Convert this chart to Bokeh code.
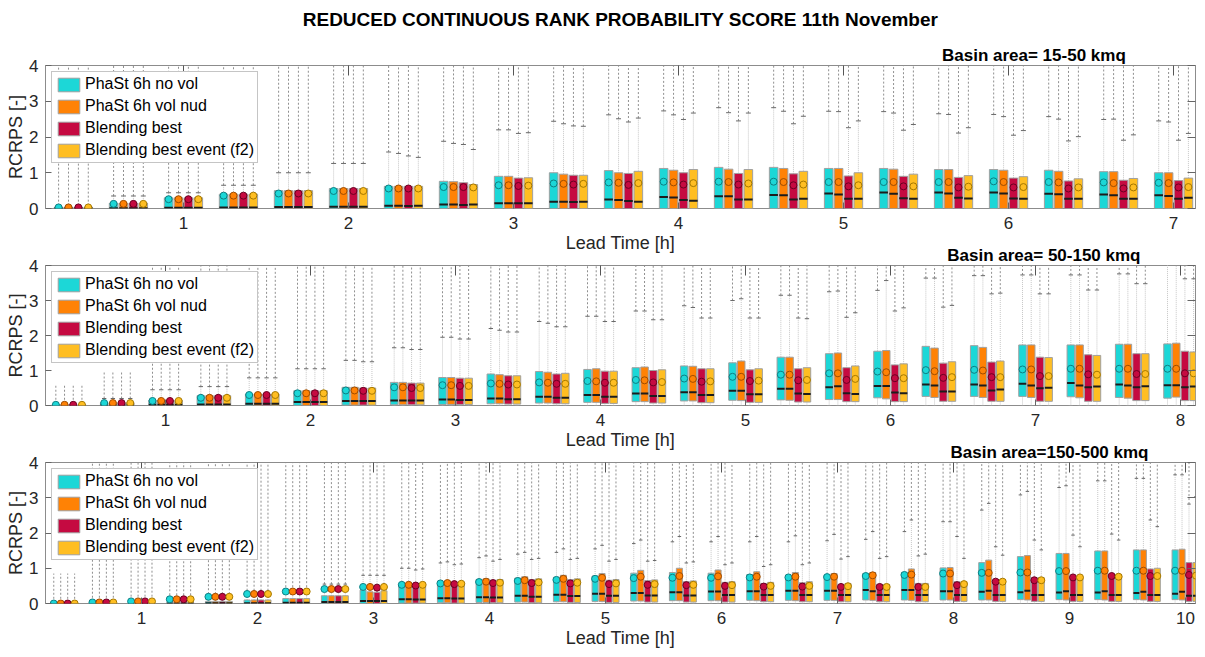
from bokeh.plotting import figure
from bokeh.models import (ColumnDataSource, Range1d, LinearAxis, Legend, LegendItem,
                          Title, FixedTicker, CustomJSTickFormatter)
from bokeh.layouts import column
from bokeh.embed import file_html
from bokeh.resources import INLINE

# ---------------------------------------------------------------- labels
TITLE = "REDUCED CONTINUOUS RANK PROBABILITY SCORE 11th November"
X_LABEL = "Lead Time [h]"
Y_LABEL = "RCRPS [-]"
SERIES = ["PhaSt 6h no vol", "PhaSt 6h vol nud", "Blending best", "Blending best event (f2)"]
FILL = ["#1CD7D7", "#FF8205", "#C50A41", "#FFBE22"]
DARK = ["#0E7E82", "#9E4C00", "#6A0022", "#A57800"]

P1_SUB = "Basin area= 15-50  kmq"
P2_SUB = "Basin area= 50-150 kmq"
P3_SUB = "Basin area=150-500 kmq"

P1_XTICKS = [1, 2, 3, 4, 5, 6, 7]
P2_XTICKS = [1, 2, 3, 4, 5, 6, 7, 8]
P3_XTICKS = [1, 2, 3, 4, 5, 6, 7, 8, 9, 10]
Y_TICKS = [0, 1, 2, 3, 4]

# ---------------------------------------------------------------- panel 1 (15-50 kmq)
P1_LEAD_MIN = [20, 40, 60, 80, 100, 120, 140, 160, 180, 200, 220, 240, 260, 280, 300,
               320, 340, 360, 380, 400, 420]
P1_Q1_A = [0, 0, 0, 0, 0, 0, 0, 0, 0, 0, 0, 0, 0, 0, 0, 0, 0, 0, 0, 0, 0]
P1_Q1_B = [0, 0, 0, 0, 0, 0, 0, 0, 0, 0, 0, 0, 0, 0, 0, 0, 0, 0, 0, 0, 0]
P1_Q1_C = [0, 0, 0, 0, 0, 0, 0, 0, 0, 0, 0, 0, 0, 0, 0, 0, 0, 0, 0, 0, 0]
P1_Q1_D = [0, 0, 0, 0, 0, 0, 0, 0, 0, 0, 0, 0, 0, 0, 0, 0, 0, 0, 0, 0, 0]
P1_Q3_A = [0.04, 0.15, 0.30, 0.40, 0.50, 0.56, 0.62, 0.76, 0.90, 1.00, 1.06, 1.12, 1.15, 1.15,
           1.12, 1.12, 1.09, 1.09, 1.07, 1.03, 1.00]
P1_Q3_B = [0.04, 0.15, 0.30, 0.40, 0.50, 0.56, 0.62, 0.75, 0.90, 0.96, 1.00, 1.07, 1.10, 1.12,
           1.12, 1.10, 1.09, 1.07, 1.04, 1.03, 1.00]
P1_Q3_C = [0.04, 0.15, 0.30, 0.40, 0.50, 0.56, 0.62, 0.72, 0.85, 0.93, 0.98, 1.00, 0.98, 0.97,
           0.91, 0.90, 0.87, 0.85, 0.77, 0.79, 0.78]
P1_Q3_D = [0.04, 0.15, 0.30, 0.40, 0.50, 0.56, 0.62, 0.67, 0.86, 0.93, 1.04, 1.09, 1.09, 1.04,
           1.00, 0.96, 0.92, 0.89, 0.83, 0.84, 0.85]
P1_MED_A = [0.00, 0.01, 0.02, 0.03, 0.04, 0.05, 0.08, 0.11, 0.15, 0.19, 0.25, 0.32, 0.34, 0.38,
            0.42, 0.45, 0.45, 0.45, 0.41, 0.39, 0.37]
P1_MED_B = [0.00, 0.01, 0.02, 0.03, 0.04, 0.05, 0.08, 0.11, 0.15, 0.19, 0.24, 0.31, 0.34, 0.37,
            0.39, 0.41, 0.42, 0.42, 0.40, 0.37, 0.35]
P1_MED_C = [0.00, 0.01, 0.02, 0.03, 0.04, 0.05, 0.07, 0.10, 0.15, 0.18, 0.21, 0.24, 0.25, 0.25,
            0.27, 0.29, 0.30, 0.28, 0.27, 0.27, 0.27]
P1_MED_D = [0.00, 0.01, 0.02, 0.03, 0.04, 0.05, 0.08, 0.11, 0.15, 0.19, 0.19, 0.22, 0.25, 0.27,
            0.27, 0.27, 0.28, 0.27, 0.27, 0.27, 0.30]
P1_MEAN_A = [0.03, 0.13, 0.26, 0.36, 0.42, 0.49, 0.56, 0.60, 0.65, 0.70, 0.73, 0.75, 0.75, 0.75,
             0.74, 0.74, 0.74, 0.76, 0.74, 0.73, 0.72]
P1_MEAN_B = [0.03, 0.13, 0.26, 0.36, 0.42, 0.49, 0.56, 0.60, 0.65, 0.69, 0.72, 0.73, 0.74, 0.74,
             0.74, 0.74, 0.74, 0.74, 0.73, 0.71, 0.71]
P1_MEAN_C = [0.03, 0.13, 0.26, 0.36, 0.42, 0.49, 0.56, 0.60, 0.63, 0.67, 0.66, 0.67, 0.67, 0.65,
             0.62, 0.62, 0.59, 0.59, 0.56, 0.56, 0.59]
P1_MEAN_D = [0.03, 0.13, 0.26, 0.36, 0.42, 0.49, 0.56, 0.59, 0.64, 0.69, 0.71, 0.71, 0.70, 0.67,
             0.65, 0.62, 0.61, 0.60, 0.59, 0.59, 0.60]
P1_CAP_A = [0.08, 0.35, 0.44, 0.65, 1.00, 1.26, 1.58, 1.88, 2.20, 2.44, 2.62, 2.73, 2.82, 2.82,
            2.72, 2.71, 2.65, 2.63, 2.57, 2.49, 2.45]
P1_CAP_B = [0.08, 0.35, 0.44, 0.65, 1.00, 1.26, 1.54, 1.82, 2.20, 2.37, 2.51, 2.62, 2.68, 2.72,
            2.71, 2.67, 2.63, 2.57, 2.50, 2.50, 2.42]
P1_CAP_C = [0.08, 0.35, 0.44, 0.65, 1.00, 1.26, 1.47, 1.79, 2.10, 2.31, 2.42, 2.49, 2.45, 2.37,
            2.26, 2.19, 2.11, 2.05, 1.89, 1.91, 1.91]
P1_CAP_D = [0.08, 0.35, 0.44, 0.65, 1.00, 1.26, 1.43, 1.65, 2.12, 2.30, 2.53, 2.67, 2.67, 2.58,
            2.45, 2.35, 2.26, 2.18, 2.01, 2.06, 2.10]
P1_OUTMAX = [4, 4, 4, 4, 4, 4, 4, 4, 4, 4, 4, 4, 4, 4, 4, 4, 4, 4, 4, 4, 4]

# ---------------------------------------------------------------- panel 2 (50-150 kmq)
P2_LEAD_MIN = [20, 40, 60, 80, 100, 120, 140, 160, 180, 200, 220, 240, 260, 280, 300, 320,
               340, 360, 380, 400, 420, 440, 460, 480]
P2_Q1_A = [0, 0, 0, 0, 0, 0, 0.01, 0.02, 0.03, 0.05, 0.07, 0.09, 0.11, 0.13, 0.15, 0.16,
           0.17, 0.22, 0.26, 0.26, 0.26, 0.25, 0.23, 0.21]
P2_Q1_B = [0, 0, 0, 0, 0, 0, 0.01, 0.02, 0.03, 0.05, 0.07, 0.09, 0.11, 0.13, 0.14, 0.15,
           0.17, 0.19, 0.23, 0.23, 0.23, 0.22, 0.21, 0.24]
P2_Q1_C = [0, 0, 0, 0, 0, 0, 0.01, 0.02, 0.03, 0.04, 0.05, 0.06, 0.07, 0.08, 0.09, 0.10,
           0.11, 0.11, 0.12, 0.12, 0.12, 0.12, 0.14, 0.14]
P2_Q1_D = [0, 0, 0, 0, 0, 0, 0.01, 0.02, 0.03, 0.04, 0.05, 0.06, 0.07, 0.08, 0.09, 0.10,
           0.11, 0.11, 0.12, 0.12, 0.12, 0.12, 0.14, 0.14]
P2_Q3_A = [0.02, 0.08, 0.15, 0.28, 0.33, 0.42, 0.52, 0.66, 0.80, 0.90, 0.97, 1.03, 1.08, 1.13,
           1.22, 1.38, 1.48, 1.55, 1.69, 1.71, 1.73, 1.73, 1.75, 1.76]
P2_Q3_B = [0.02, 0.08, 0.15, 0.28, 0.33, 0.42, 0.52, 0.66, 0.80, 0.88, 0.95, 1.05, 1.10, 1.12,
           1.27, 1.38, 1.50, 1.57, 1.64, 1.66, 1.73, 1.73, 1.75, 1.78]
P2_Q3_C = [0.02, 0.08, 0.15, 0.28, 0.33, 0.42, 0.50, 0.64, 0.78, 0.85, 0.90, 0.98, 1.00, 1.05,
           1.02, 1.05, 1.08, 1.16, 1.21, 1.24, 1.38, 1.45, 1.48, 1.55]
P2_Q3_D = [0.02, 0.08, 0.15, 0.28, 0.33, 0.42, 0.50, 0.64, 0.78, 0.85, 0.92, 0.98, 1.02, 1.05,
           1.05, 1.08, 1.13, 1.19, 1.25, 1.27, 1.37, 1.43, 1.48, 1.53]
P2_MED_A = [0.00, 0.01, 0.02, 0.03, 0.05, 0.10, 0.13, 0.14, 0.17, 0.20, 0.25, 0.30, 0.34, 0.38,
            0.42, 0.48, 0.52, 0.56, 0.60, 0.60, 0.62, 0.64, 0.60, 0.58]
P2_MED_B = [0.00, 0.01, 0.02, 0.03, 0.05, 0.10, 0.13, 0.14, 0.17, 0.20, 0.25, 0.30, 0.34, 0.38,
            0.42, 0.48, 0.55, 0.56, 0.57, 0.57, 0.57, 0.57, 0.57, 0.58]
P2_MED_C = [0.00, 0.01, 0.02, 0.03, 0.05, 0.10, 0.13, 0.14, 0.16, 0.18, 0.22, 0.25, 0.27, 0.30,
            0.32, 0.34, 0.35, 0.37, 0.40, 0.43, 0.49, 0.52, 0.52, 0.52]
P2_MED_D = [0.00, 0.01, 0.02, 0.03, 0.05, 0.10, 0.13, 0.14, 0.16, 0.18, 0.22, 0.25, 0.27, 0.30,
            0.32, 0.33, 0.33, 0.35, 0.40, 0.46, 0.51, 0.54, 0.55, 0.54]
P2_MEAN_A = [0.02, 0.07, 0.13, 0.22, 0.30, 0.35, 0.43, 0.52, 0.58, 0.63, 0.66, 0.70, 0.73, 0.77,
             0.82, 0.88, 0.92, 0.97, 1.01, 1.02, 1.03, 1.05, 1.05, 1.05]
P2_MEAN_B = [0.02, 0.07, 0.13, 0.22, 0.30, 0.35, 0.43, 0.52, 0.58, 0.62, 0.65, 0.69, 0.72, 0.76,
             0.82, 0.88, 0.92, 0.95, 0.98, 1.00, 1.03, 1.05, 1.05, 1.05]
P2_MEAN_C = [0.02, 0.07, 0.13, 0.22, 0.30, 0.35, 0.42, 0.50, 0.56, 0.60, 0.62, 0.65, 0.66, 0.68,
             0.70, 0.72, 0.73, 0.78, 0.79, 0.81, 0.84, 0.89, 0.90, 0.92]
P2_MEAN_D = [0.02, 0.07, 0.13, 0.22, 0.30, 0.35, 0.42, 0.50, 0.56, 0.60, 0.62, 0.65, 0.67, 0.69,
             0.71, 0.73, 0.76, 0.78, 0.81, 0.81, 0.84, 0.88, 0.90, 0.92]
P2_CAP_A = [0.05, 0.20, 0.45, 0.54, 0.79, 1.05, 1.29, 1.65, 1.95, 2.20, 2.40, 2.55, 2.70, 2.85,
            3.00, 3.15, 3.25, 3.29, 3.64, 3.71, 3.73, 3.73, 3.76, 4.20]
P2_CAP_B = [0.05, 0.20, 0.45, 0.54, 0.79, 1.05, 1.29, 1.65, 1.95, 2.15, 2.35, 2.55, 2.70, 2.80,
            3.05, 3.15, 3.27, 3.57, 3.64, 3.71, 3.73, 3.73, 3.76, 4.20]
P2_CAP_C = [0.05, 0.20, 0.45, 0.54, 0.79, 1.05, 1.25, 1.60, 1.90, 2.10, 2.25, 2.40, 2.45, 2.50,
            2.50, 2.50, 2.52, 2.70, 2.81, 3.19, 3.19, 3.30, 3.48, 3.62]
P2_CAP_D = [0.05, 0.20, 0.45, 0.54, 0.79, 1.05, 1.25, 1.60, 1.90, 2.10, 2.25, 2.40, 2.45, 2.50,
            2.50, 2.48, 2.65, 2.79, 2.86, 3.21, 3.19, 3.30, 3.48, 3.62]
P2_OUTMAX = [0.57, 1.0, 4, 4, 4, 4, 4, 4, 4, 4, 4, 4, 4, 4, 4, 4, 4, 4, 4, 4, 4, 4, 4, 4]

# ---------------------------------------------------------------- panel 3 (150-500 kmq)
P3_LEAD_MIN = [20, 40, 60, 80, 100, 120, 140, 160, 180, 200, 220, 240, 260, 280, 300, 320,
               340, 360, 380, 400, 420, 440, 460, 480, 500, 520, 540, 560, 580, 600]
P3_Q1_A = [0, 0, 0, 0, 0, 0, 0, 0, 0, 0.01, 0.02, 0.03, 0.04, 0.05, 0.06, 0.07, 0.08, 0.08,
           0.09, 0.09, 0.09, 0.10, 0.10, 0.10, 0.10, 0.11, 0.11, 0.11, 0.11, 0.11]
P3_Q1_B = [0, 0, 0, 0, 0, 0, 0, 0, 0, 0.01, 0.02, 0.03, 0.04, 0.05, 0.06, 0.07, 0.08, 0.08,
           0.08, 0.08, 0.09, 0.09, 0.09, 0.10, 0.10, 0.10, 0.10, 0.10, 0.10, 0.10]
P3_Q1_C = [0, 0, 0, 0, 0, 0, 0, 0, 0, 0.01, 0.01, 0.02, 0.02, 0.03, 0.03, 0.04, 0.04, 0.04,
           0.05, 0.05, 0.05, 0.05, 0.05, 0.06, 0.06, 0.06, 0.06, 0.06, 0.06, 0.06]
P3_Q1_D = [0, 0, 0, 0, 0, 0, 0, 0, 0, 0.01, 0.01, 0.02, 0.02, 0.03, 0.03, 0.04, 0.04, 0.04,
           0.05, 0.05, 0.05, 0.05, 0.05, 0.06, 0.06, 0.06, 0.06, 0.06, 0.06, 0.06]
P3_Q3_A = [0.00, 0.01, 0.02, 0.03, 0.06, 0.10, 0.14, 0.22, 0.38, 0.52, 0.60, 0.68, 0.72, 0.74,
           0.78, 0.86, 0.88, 0.86, 0.82, 0.80, 0.81, 0.85, 0.88, 1.01, 1.16, 1.33, 1.42, 1.49,
           1.52, 1.52]
P3_Q3_B = [0.00, 0.01, 0.02, 0.03, 0.06, 0.10, 0.14, 0.22, 0.33, 0.52, 0.62, 0.70, 0.76, 0.80,
           0.85, 0.94, 1.00, 0.95, 0.90, 0.88, 0.85, 0.88, 0.98, 1.02, 1.23, 1.36, 1.42, 1.49,
           1.52, 1.54]
P3_Q3_C = [0.00, 0.01, 0.02, 0.03, 0.06, 0.10, 0.14, 0.22, 0.32, 0.48, 0.58, 0.66, 0.68, 0.68,
           0.66, 0.65, 0.62, 0.60, 0.57, 0.59, 0.54, 0.54, 0.57, 0.62, 0.66, 0.73, 0.76, 0.82,
           0.98, 1.16]
P3_Q3_D = [0.00, 0.01, 0.02, 0.03, 0.06, 0.10, 0.14, 0.22, 0.36, 0.50, 0.60, 0.68, 0.70, 0.70,
           0.68, 0.67, 0.64, 0.62, 0.60, 0.62, 0.57, 0.54, 0.57, 0.62, 0.68, 0.73, 0.76, 0.82,
           1.00, 1.16]
P3_MED_A = [0.00, 0.00, 0.00, 0.00, 0.01, 0.01, 0.02, 0.04, 0.07, 0.12, 0.15, 0.18, 0.22, 0.25,
            0.28, 0.30, 0.32, 0.34, 0.35, 0.36, 0.36, 0.38, 0.38, 0.35, 0.33, 0.32, 0.31, 0.31,
            0.30, 0.28]
P3_MED_B = [0.00, 0.00, 0.00, 0.00, 0.01, 0.01, 0.02, 0.04, 0.07, 0.12, 0.15, 0.18, 0.22, 0.25,
            0.28, 0.30, 0.32, 0.34, 0.35, 0.36, 0.36, 0.35, 0.38, 0.35, 0.36, 0.36, 0.35, 0.35,
            0.33, 0.33]
P3_MED_C = [0.00, 0.00, 0.00, 0.00, 0.01, 0.01, 0.02, 0.04, 0.07, 0.11, 0.14, 0.17, 0.19, 0.21,
            0.22, 0.23, 0.23, 0.24, 0.24, 0.24, 0.24, 0.24, 0.24, 0.24, 0.24, 0.24, 0.24, 0.24,
            0.24, 0.22]
P3_MED_D = [0.00, 0.00, 0.00, 0.00, 0.01, 0.01, 0.02, 0.04, 0.07, 0.11, 0.14, 0.17, 0.19, 0.21,
            0.22, 0.23, 0.23, 0.24, 0.24, 0.24, 0.24, 0.24, 0.24, 0.24, 0.24, 0.24, 0.24, 0.24,
            0.24, 0.22]
P3_MEAN_A = [0.00, 0.03, 0.06, 0.12, 0.19, 0.27, 0.34, 0.41, 0.47, 0.53, 0.57, 0.61, 0.64, 0.67,
             0.70, 0.72, 0.73, 0.73, 0.74, 0.74, 0.75, 0.78, 0.81, 0.85, 0.87, 0.88, 0.92, 0.93,
             0.93, 0.93]
P3_MEAN_B = [0.00, 0.03, 0.06, 0.12, 0.19, 0.27, 0.34, 0.41, 0.47, 0.53, 0.58, 0.62, 0.66, 0.70,
             0.73, 0.76, 0.78, 0.77, 0.76, 0.76, 0.76, 0.80, 0.82, 0.85, 0.87, 0.88, 0.92, 0.93,
             0.93, 0.93]
P3_MEAN_C = [0.00, 0.03, 0.06, 0.12, 0.19, 0.27, 0.34, 0.41, 0.45, 0.51, 0.55, 0.58, 0.58, 0.57,
             0.55, 0.53, 0.52, 0.50, 0.48, 0.48, 0.47, 0.47, 0.47, 0.52, 0.62, 0.66, 0.74, 0.78,
             0.78, 0.81]
P3_MEAN_D = [0.00, 0.03, 0.06, 0.12, 0.19, 0.27, 0.34, 0.41, 0.47, 0.53, 0.56, 0.59, 0.60, 0.59,
             0.57, 0.55, 0.53, 0.52, 0.50, 0.50, 0.49, 0.47, 0.47, 0.55, 0.62, 0.66, 0.74, 0.76,
             0.78, 0.79]
P3_CAP_A = [0.02, 0.05, 0.08, 0.12, 0.15, 0.25, 0.35, 0.55, 0.80, 1.00, 1.15, 1.30, 1.40, 1.45,
            1.55, 1.70, 1.75, 1.75, 1.75, 1.75, 1.78, 1.82, 2.04, 2.32, 2.65, 3.08, 3.29, 3.48,
            3.55, 3.65]
P3_CAP_B = [0.02, 0.05, 0.08, 0.12, 0.15, 0.25, 0.35, 0.55, 0.80, 1.00, 1.18, 1.35, 1.45, 1.55,
            1.65, 1.80, 1.90, 1.90, 1.90, 1.92, 1.96, 2.04, 2.37, 2.32, 2.84, 3.18, 3.34, 3.48,
            3.55, 3.65]
P3_CAP_C = [0.02, 0.05, 0.08, 0.12, 0.15, 0.25, 0.35, 0.55, 0.80, 0.95, 1.10, 1.20, 1.25, 1.25,
            1.20, 1.20, 1.15, 1.10, 1.05, 1.10, 1.26, 1.28, 1.35, 1.90, 1.61, 1.80, 1.94, 1.97,
            2.37, 2.82]
P3_CAP_D = [0.02, 0.05, 0.08, 0.12, 0.15, 0.25, 0.35, 0.55, 0.80, 0.98, 1.12, 1.25, 1.28, 1.28,
            1.25, 1.22, 1.18, 1.15, 1.10, 1.15, 1.33, 1.33, 1.40, 1.28, 1.37, 1.52, 1.61, 1.80,
            2.18, 3.03]
P3_OUTMAX = [0.85, 4, 4, 4, 4, 4, 4, 4, 4, 4, 4, 4, 4, 4, 4, 4, 4, 4, 4, 4, 4, 4, 4, 4, 4, 4,
             4, 4, 4, 4]

# ---------------------------------------------------------------- styling
FONT = "Liberation Sans"
TEXT_COLOR = "#262626"
OFFSETS = [-0.09, -0.03, 0.03, 0.09]   # hours, position of each series inside a group
BOX_W = 0.052
CAP_W = 0.030
PAGE_W = 1205


def set_standoff(t, v):
    if "standoff" in t.properties():
        t.standoff = v
    return t


def build_panel(lead_min, q1s, q3s, meds, means, caps, outmax, x_rng, xticks,
                subtitle, sub_dx, height, b_top, b_bottom):
    p = figure(width=PAGE_W, height=height, x_range=Range1d(*x_rng), y_range=Range1d(0, 4),
               output_backend="svg", toolbar_location=None, title=None,
               min_border_left=45, min_border_right=10,
               min_border_top=b_top, min_border_bottom=b_bottom,
               background_fill_color="white", border_fill_color=None)
    p.grid.visible = False
    p.outline_line_color = "#8c8c8c"
    p.outline_line_width = 1

    box_renderers = []
    n = len(lead_min)
    for k in range(4):
        xs = [m / 60.0 + OFFSETS[k] for m in lead_min]
        src = ColumnDataSource(dict(
            x=xs,
            xl=[v - BOX_W / 2 for v in xs], xr=[v + BOX_W / 2 for v in xs],
            cl=[v - CAP_W / 2 for v in xs], cr=[v + CAP_W / 2 for v in xs],
            q1=q1s[k], q3=q3s[k], med=meds[k], mean=means[k], cap=caps[k],
            out=outmax, zero=[0.0] * n,
        ))
        # outliers region above the whisker cap
        p.segment("x", "cap", "x", "out", source=src, line_color="#8f8f8f",
                  line_width=1, line_dash="2 2")
        # upper whisker
        p.segment("x", "q3", "x", "cap", source=src, line_color="#c6c6c6",
                  line_width=1, line_dash="1 1")
        p.segment("cl", "cap", "cr", "cap", source=src, line_color="#6a6a6a", line_width=1)
        # lower whisker
        p.segment("x", "zero", "x", "q1", source=src, line_color="#c6c6c6",
                  line_width=1, line_dash="1 1")
        p.segment("cl", "zero", "cr", "zero", source=src, line_color="#9a9a9a", line_width=1)
        # box
        r = p.vbar(x="x", width=BOX_W, bottom="q1", top="q3", source=src,
                   fill_color=FILL[k], line_color="#a0a0a0", line_width=1)
        box_renderers.append(r)
        # median
        p.segment("xl", "med", "xr", "med", source=src, line_color="#1c1c1c", line_width=2)
        # mean
        p.scatter("x", "mean", source=src, marker="circle", size=7,
                  fill_color=FILL[k], line_color=DARK[k], line_width=1)

    # axes
    xa = p.xaxis[0]
    xa.ticker = FixedTicker(ticks=xticks)
    xa.axis_label = X_LABEL
    ya = p.yaxis[0]
    ya.ticker = FixedTicker(ticks=Y_TICKS)
    ya.axis_label = Y_LABEL
    for ax in (xa, ya):
        ax.axis_line_color = None
        ax.major_tick_in = 6
        ax.major_tick_out = 0
        ax.major_tick_line_color = "#666666"
        ax.minor_tick_line_color = None
        ax.major_label_text_font = FONT
        ax.major_label_text_color = TEXT_COLOR
        ax.major_label_text_font_size = "17px"
        ax.axis_label_text_font = FONT
        ax.axis_label_text_font_style = "normal"
        ax.axis_label_text_color = TEXT_COLOR
        ax.axis_label_text_font_size = "18px"
    xa.major_label_standoff = 8
    xa.axis_label_standoff = 1
    ya.major_label_standoff = 7
    ya.axis_label_standoff = 0

    blank = CustomJSTickFormatter(code="return ''")
    right = LinearAxis(ticker=FixedTicker(ticks=Y_TICKS), formatter=blank,
                       axis_line_color=None, major_tick_in=8, major_tick_out=0,
                       major_tick_line_color="#666666", minor_tick_line_color=None,
                       major_label_standoff=0, major_label_text_font_size="0px")
    p.add_layout(right, "right")
    top = LinearAxis(ticker=FixedTicker(ticks=xticks), formatter=blank,
                     axis_line_color=None, major_tick_in=10, major_tick_out=0,
                     major_tick_line_color="#555555", minor_tick_line_color=None,
                     major_label_standoff=0, major_label_text_font_size="0px")
    p.add_layout(top, "above")

    # basin-area sub-title, right aligned
    sub = Title(text=subtitle, align="right", offset=sub_dx, text_font=FONT,
                text_font_style="bold", text_font_size="17px", text_color="#000000")
    set_standoff(sub, 2)
    p.add_layout(sub, "above")

    # legend
    legend = Legend(items=[LegendItem(label=SERIES[k], renderers=[box_renderers[k]])
                           for k in range(4)],
                    location="top_left", orientation="vertical",
                    label_text_font=FONT, label_text_font_size="16px",
                    label_text_color="#000000", glyph_width=27, glyph_height=17,
                    label_height=18, spacing=4, padding=3, margin=6, label_standoff=3,
                    border_line_color="#8c8c8c", border_line_width=1,
                    background_fill_color="white", background_fill_alpha=1.0)
    p.add_layout(legend)
    return p


# main title strip
p0 = figure(width=PAGE_W, height=36, output_backend="svg", toolbar_location=None,
            title=TITLE, min_border_top=29, min_border_bottom=0,
            min_border_left=0, min_border_right=0, border_fill_color=None)
p0.title.align = "center"
p0.title.text_font = FONT
p0.title.text_font_style = "bold"
p0.title.text_font_size = "19px"
p0.title.text_color = "#000000"
set_standoff(p0.title, 0)
p0.xaxis.visible = False
p0.yaxis.visible = False
p0.grid.visible = False
p0.outline_line_color = None

p1 = build_panel(P1_LEAD_MIN,
                 [P1_Q1_A, P1_Q1_B, P1_Q1_C, P1_Q1_D],
                 [P1_Q3_A, P1_Q3_B, P1_Q3_C, P1_Q3_D],
                 [P1_MED_A, P1_MED_B, P1_MED_C, P1_MED_D],
                 [P1_MEAN_A, P1_MEAN_B, P1_MEAN_C, P1_MEAN_D],
                 [P1_CAP_A, P1_CAP_B, P1_CAP_C, P1_CAP_D],
                 P1_OUTMAX, (0.164, 7.133), P1_XTICKS, P1_SUB, 65,
                 222, 29, 50)
p2 = build_panel(P2_LEAD_MIN,
                 [P2_Q1_A, P2_Q1_B, P2_Q1_C, P2_Q1_D],
                 [P2_Q3_A, P2_Q3_B, P2_Q3_C, P2_Q3_D],
                 [P2_MED_A, P2_MED_B, P2_MED_C, P2_MED_D],
                 [P2_MEAN_A, P2_MEAN_B, P2_MEAN_C, P2_MEAN_D],
                 [P2_CAP_A, P2_CAP_B, P2_CAP_C, P2_CAP_D],
                 P2_OUTMAX, (0.172, 8.103), P2_XTICKS, P2_SUB, 55,
                 213, 23, 50)
p3 = build_panel(P3_LEAD_MIN,
                 [P3_Q1_A, P3_Q1_B, P3_Q1_C, P3_Q1_D],
                 [P3_Q3_A, P3_Q3_B, P3_Q3_C, P3_Q3_D],
                 [P3_MED_A, P3_MED_B, P3_MED_C, P3_MED_D],
                 [P3_MEAN_A, P3_MEAN_B, P3_MEAN_C, P3_MEAN_D],
                 [P3_CAP_A, P3_CAP_B, P3_CAP_C, P3_CAP_D],
                 P3_OUTMAX, (0.172, 10.086), P3_XTICKS, P3_SUB, 47,
                 218, 23, 54)

# let panels 2 and 3 overlap the (empty) bottom strip of the panel above
for pp in (p2, p3):
    try:
        pp.margin = (-16, 0, 0, 0)
    except Exception:
        pass

layout = column(p0, p1, p2, p3, spacing=0)
open("out.html", "w").write(file_html(layout, INLINE, title="RCRPS 11th November"))
